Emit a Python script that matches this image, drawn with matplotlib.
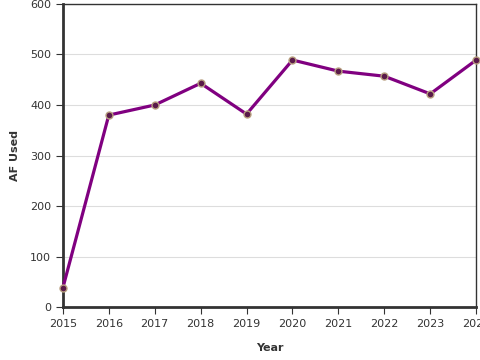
import matplotlib
matplotlib.use("Agg")
import matplotlib.pyplot as plt

years = [2015, 2016, 2017, 2018, 2019, 2020, 2021, 2022, 2023, 2024]
af_used = [38, 380, 400, 443, 382, 489, 467, 457, 422, 489]

fig = plt.figure(figsize=(4.8, 3.6), dpi=100)
ax = fig.add_axes([0.131, 0.147, 0.861, 0.842])

ax.plot(years, af_used, color="#800080", lw=2.3, zorder=3, clip_on=False)
ax.plot(years, af_used, "o", ms=5, mfc="#5a1a4a", mec="#b8a080", mew=1, zorder=4, clip_on=False)

ax.set_xlim(2015, 2024)
ax.set_ylim(0, 600)
ax.set_xticks(years)
ax.set_yticks(range(0, 601, 100))
ax.grid(axis="y", color="#dddddd", lw=0.8)
ax.set_axisbelow(True)

for s in ["top", "right"]:
    ax.spines[s].set_linewidth(1)
    ax.spines[s].set_color("#333333")
for s in ["left", "bottom"]:
    ax.spines[s].set_linewidth(2)
    ax.spines[s].set_color("#333333")

ax.tick_params(labelsize=8, length=5, color="#333333", labelcolor="#333333")
ax.set_xlabel("Year", fontsize=8, fontweight="bold", color="#333333", labelpad=10)
ax.set_ylabel("AF Used", fontsize=8, fontweight="bold", color="#333333", labelpad=7)

fig.savefig("out.png", dpi=100)
